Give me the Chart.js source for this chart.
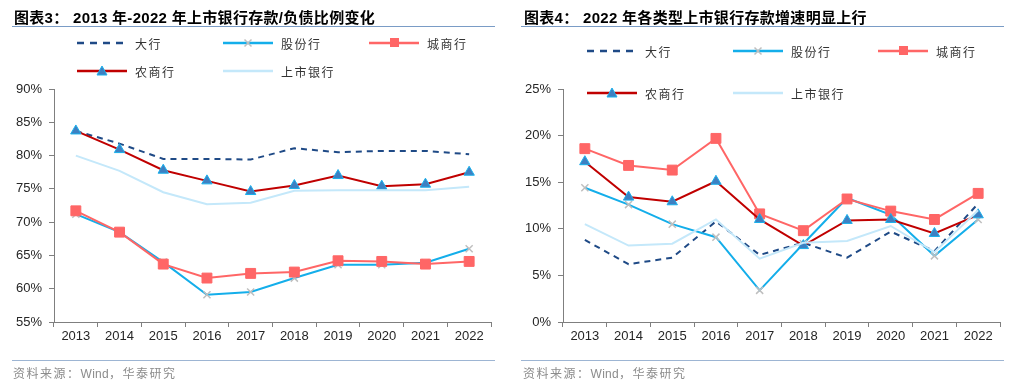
<!DOCTYPE html>
<html>
<head>
<meta charset="utf-8">
<script src="https://cdn.jsdelivr.net/npm/chart.js@4"></script>
<style>
    body { margin: 0; background: #fff; width: 1024px; height: 381px; position: relative; overflow: hidden; }
    .panel { position: absolute; top: 0; width: 512px; height: 381px; }
    .panel canvas { position: absolute; left: 0; top: 0; }
    .title { position: absolute; top: 6px; font: bold 15px "Liberation Sans", "Noto Sans CJK SC", sans-serif; color: #000; white-space: nowrap; letter-spacing: 0.3px; }
    .rule { position: absolute; height: 0; border-top: 1.5px solid #7A9CC6; }
    .rule.bottom { border-top: 1px solid #9DB5D3; }
    .source { position: absolute; top: 364px; font: 12px "Liberation Sans", "Noto Sans CJK SC", sans-serif; color: #8C8C8C; letter-spacing: 1.5px; white-space: nowrap; }
    .source b { font-weight: normal; letter-spacing: 0.3px; }
    .lg { position: absolute; height: 16px; display: flex; align-items: center; white-space: nowrap; }
    .lg svg { display: block; }
    .lg span { margin-left: 8px; font: 12px "Noto Sans CJK SC", sans-serif; color: #333; letter-spacing: 1.5px; }
</style>
</head>
<body>

<div class="panel" style="left:0">
    <canvas id="depositRatioChart" width="512" height="381"></canvas>
    <div class="title" style="left:14px">图表3： 2013 年-2022 年上市银行存款/负债比例变化</div>
    <div class="rule" style="left:12px; width:483px; top:26px"></div>
    <div class="rule bottom" style="left:12px; width:483px; top:360px"></div>
    <div class="source" style="left:13px">资料来源：<b>Wind</b>，华泰研究</div>
    <div id="legendLeft"></div>
</div>

<div class="panel" style="left:512px">
    <canvas id="depositGrowthChart" width="512" height="381"></canvas>
    <div class="title" style="left:12px">图表4： 2022 年各类型上市银行存款增速明显上行</div>
    <div class="rule" style="left:9px; width:483px; top:26px"></div>
    <div class="rule bottom" style="left:9px; width:483px; top:360px"></div>
    <div class="source" style="left:11px">资料来源：<b>Wind</b>，华泰研究</div>
    <div id="legendRight"></div>
</div>

<script>
// Categories
const years = ['2013', '2014', '2015', '2016', '2017', '2018', '2019', '2020', '2021', '2022'];
const seriesNames = ['大行', '股份行', '城商行', '农商行', '上市银行'];

// Chart 3: deposits / liabilities (%)
const ratioBig    = [83.7, 81.8, 79.5, 79.5, 79.4, 81.1, 80.5, 80.7, 80.7, 80.2];
const ratioJoint  = [71.2, 68.5, 64.0, 59.1, 59.5, 61.6, 63.6, 63.6, 63.9, 66.0];
const ratioCity   = [71.7, 68.5, 63.7, 61.6, 62.3, 62.5, 64.2, 64.1, 63.7, 64.1];
const ratioRural  = [83.7, 80.9, 77.8, 76.2, 74.6, 75.5, 77.0, 75.4, 75.7, 77.5];
const ratioListed = [80.0, 77.7, 74.5, 72.7, 72.9, 74.7, 74.8, 74.8, 74.8, 75.3];

// Chart 4: deposit growth (%)
const growthBig    = [8.8, 6.2, 6.9, 10.8, 7.2, 8.5, 6.9, 9.7, 7.6, 12.7];
const growthJoint  = [14.4, 12.6, 10.5, 9.1, 3.4, 8.4, 13.3, 11.5, 7.1, 11.0];
const growthCity   = [18.6, 16.8, 16.3, 19.7, 11.6, 9.8, 13.2, 11.9, 11.0, 13.8];
const growthRural  = [17.2, 13.4, 12.9, 15.1, 11.0, 8.2, 10.9, 11.0, 9.5, 11.5];
const growthListed = [10.5, 8.2, 8.4, 11.0, 6.8, 8.5, 8.7, 10.3, 7.5, 12.0];

// Series styles (legend order)
const seriesStyles = [
    { color: '#1F4A86', dash: [6, 5], point: false, order: 5 },
    { color: '#14AEEA', marker: 'crossRot', markerFill: '#BFBFBF', markerLine: '#BFBFBF', radius: 5, order: 4 },
    { color: '#FF6666', marker: 'rect', markerFill: '#FF6666', markerLine: '#FF6666', radius: 7, order: 3 },
    { color: '#C00000', marker: 'triangle', markerFill: '#3D80C2', markerLine: '#1AB0EC', radius: 6, order: 2 },
    { color: '#C4E8FA', point: false, order: 1 }
];

const axisColor = '#7F7F7F';
const tickFont = { family: '"Liberation Sans", Arial, sans-serif', size: 13 };

function buildDatasets(values) {
    return values.map((data, i) => {
        const s = seriesStyles[i];
        return {
            label: seriesNames[i],
            data,
            order: s.order,
            borderColor: s.color,
            borderWidth: 2,
            borderDash: s.dash || [],
            tension: 0,
            pointStyle: s.marker || false,
            pointRadius: s.marker ? s.radius : 0,
            pointHoverRadius: s.marker ? s.radius : 0,
            pointBackgroundColor: s.markerFill,
            pointBorderColor: s.markerLine,
            pointBorderWidth: s.marker === 'crossRot' ? 1.5 : 1
        };
    });
}

function makeChart(id, values, yMin, yMax, yWidth, rightPad) {
    const ctx = document.getElementById(id).getContext('2d');
    return new Chart(ctx, {
        type: 'line',
        data: { labels: years, datasets: buildDatasets(values) },
        options: {
            responsive: false,
            animation: false,
            devicePixelRatio: 1,
            layout: { padding: { top: 89, right: rightPad, bottom: 29, left: 0 } },
            plugins: { legend: { display: false }, tooltip: { enabled: false } },
            scales: {
                x: {
                    offset: true,
                    grid: { display: true, offset: true, drawOnChartArea: false, drawTicks: true, tickLength: 5, color: axisColor },
                    border: { display: true, color: axisColor },
                    ticks: { color: '#262626', font: tickFont, padding: 2, maxRotation: 0, autoSkip: false },
                    afterFit: s => { s.height = 30; }
                },
                y: {
                    min: yMin,
                    max: yMax,
                    grid: { display: true, drawOnChartArea: false, drawTicks: true, tickLength: 5, color: axisColor },
                    border: { display: true, color: axisColor },
                    ticks: { stepSize: 5, color: '#262626', font: tickFont, padding: 7, callback: v => v + '%' },
                    afterFit: s => { s.width = yWidth; }
                }
            }
        }
    });
}

// Legend built from the series styles
function legendSymbol(s) {
    let svg = `<svg width="50" height="14" viewBox="0 0 50 14">`;
    svg += `<line x1="0" y1="7" x2="50" y2="7" stroke="${s.color}" stroke-width="2.5"` +
        (s.dash ? ` stroke-dasharray="7,6"` : '') + `/>`;
    if (s.marker === 'rect') {
        svg += `<rect x="21" y="2" width="9" height="9" fill="${s.markerFill}"/>`;
    } else if (s.marker === 'triangle') {
        svg += `<polygon points="25,2 30,11 20,11" fill="${s.markerFill}" stroke="${s.markerLine}" stroke-width="1"/>`;
    } else if (s.marker === 'crossRot') {
        svg += `<path d="M21.5 3.5 L28.5 10.5 M28.5 3.5 L21.5 10.5" stroke="${s.markerLine}" stroke-width="1.5"/>`;
    }
    return svg + '</svg>';
}

function buildLegend(containerId, positions) {
    const box = document.getElementById(containerId);
    seriesNames.forEach((name, i) => {
        const item = document.createElement('div');
        item.className = 'lg';
        item.style.left = positions[i][0] + 'px';
        item.style.top = (positions[i][1] - 8) + 'px';
        item.innerHTML = legendSymbol(seriesStyles[i]) + `<span>${name}</span>`;
        box.appendChild(item);
    });
}

makeChart('depositRatioChart', [ratioBig, ratioJoint, ratioCity, ratioRural, ratioListed], 55, 90, 54, 21);
makeChart('depositGrowthChart', [growthBig, growthJoint, growthCity, growthRural, growthListed], 0, 25, 51, 24);

buildLegend('legendLeft', [[77, 43], [223, 43], [369, 43], [77, 71], [223, 71]]);
buildLegend('legendRight', [[75, 51], [221, 51], [366, 51], [75, 93], [221, 93]]);
</script>
</body>
</html>
